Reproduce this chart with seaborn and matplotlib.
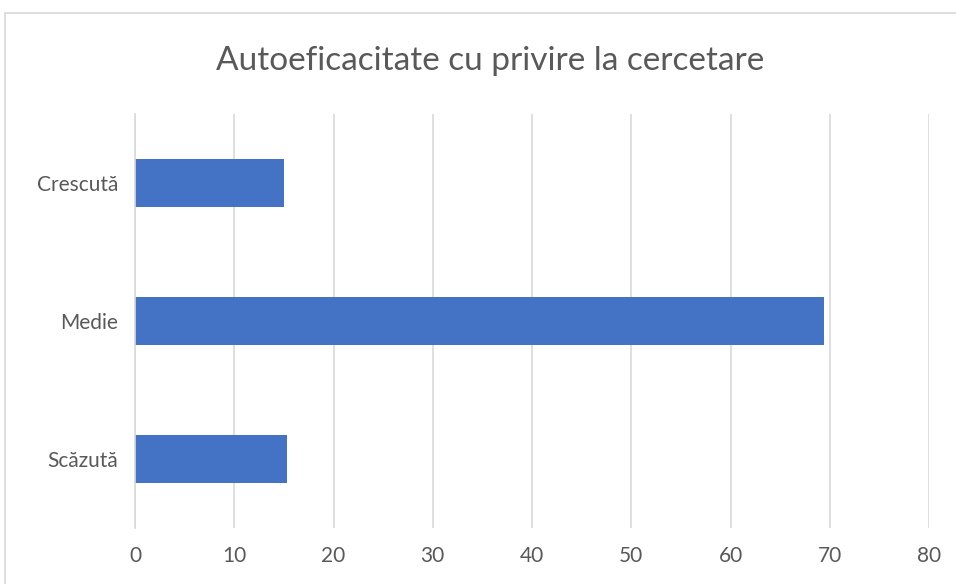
import matplotlib
matplotlib.use("Agg")
import matplotlib.pyplot as plt
import seaborn as sns
import pandas as pd
from matplotlib.patches import Rectangle

# date
categorii = ["Crescută", "Medie", "Scăzută"]
valori = [15.0, 69.45, 15.35]
titlu = "Autoeficacitate cu privire la cercetare"
x_ticks = [0, 10, 20, 30, 40, 50, 60, 70, 80]

sns.set_style("white")
plt.rcParams["font.family"] = ["Lato", "DejaVu Sans"]

df = pd.DataFrame({"categorie": categorii, "valoare": valori})

fig = plt.figure(figsize=(9.56, 5.84), dpi=100)
ax = fig.add_axes([135 / 956, 56 / 584, 794 / 956, 414 / 584])

# chenarul graficului
fig.patches.append(Rectangle((5 / 956, -0.1), 1.1, (584 - 13) / 584 + 0.1,
                             transform=fig.transFigure, fill=False,
                             edgecolor="#d9d9d9", linewidth=1.2))

sns.barplot(data=df, x="valoare", y="categorie", order=categorii,
            color="#4472C4", width=0.35, saturation=1, linewidth=0,
            ax=ax, zorder=3)

ax.set_xlim(0, 80)
ax.set_ylim(2.5, -0.5)
ax.set_xticks(x_ticks)
ax.set_xticklabels([str(t) for t in x_ticks])
ax.grid(axis="x", color="#d9d9d9", linewidth=1.2, zorder=0)
for s in ["top", "right", "bottom"]:
    ax.spines[s].set_visible(False)
ax.spines["left"].set_color("#d9d9d9")
ax.spines["left"].set_linewidth(1.2)
ax.spines["left"].set_zorder(4)
ax.tick_params(axis="both", length=0, labelsize=15, colors="#595959")
ax.tick_params(axis="x", pad=13)
ax.tick_params(axis="y", pad=12)
ax.set_xlabel("")
ax.set_ylabel("")

fig.text(490 / 956, 1 - 61 / 584, titlu, ha="center", va="center",
         fontsize=24, color="#595959")

fig.savefig("out.png", dpi=100)
